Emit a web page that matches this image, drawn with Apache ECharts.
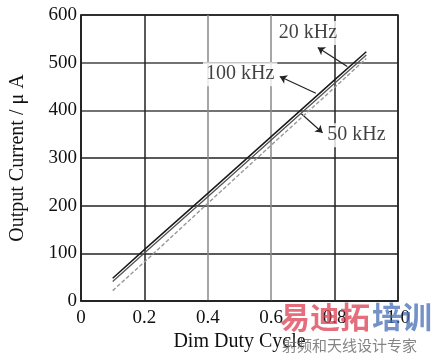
<!DOCTYPE html>
<html><head><meta charset="utf-8">
<script src="https://cdn.jsdelivr.net/npm/echarts@6/dist/echarts.min.js"></script>
<style>html,body{margin:0;padding:0;background:#fff}#c{width:434px;height:357px}</style>
</head><body><div id="c"></div>
<script>
const duty = [0.1, 0.2, 0.4, 0.6, 0.8, 0.9];
const s100k = [48, 108, 226, 345, 464, 523];
const s20k = [41, 101, 219, 338, 457, 516];
const s50k = [22, 82, 205, 327, 448, 509];
const yTicks = [0, 100, 200, 300, 400, 500, 600];
const xTicks = ['0', '0.2', '0.4', '0.6', '0.8', '1.0'];
const labelNames = ['20 kHz', '100 kHz', '50 kHz'];
const labelPos = [[0.716, 562], [0.502, 476], [0.869, 348]];
const arrowTail = [[0.84, 492], [0.741, 436], [0.695, 393]];
const arrowHead = [[0.747, 532], [0.627, 471], [0.762, 353]];

const font = "'Liberation Serif', 'DejaVu Serif', serif";
const chart = echarts.init(document.getElementById('c'));
const pairs = v => duty.map((d, i) => [d, v[i]]);
chart.setOption({
  animation: false,
  backgroundColor: '#fff',
  grid: {left: 76, right: 36, top: 15, bottom: 53, show: true, borderColor: '#222', borderWidth: 1.5, backgroundColor: 'transparent'},
  xAxis: {
    type: 'value', min: 0, max: 1, interval: 0.2,
    name: 'Dim Duty Cycle', nameLocation: 'middle', nameGap: 30,
    nameTextStyle: {fontFamily: font, fontSize: 20, color: '#111'},
    axisLine: {show: true, lineStyle: {color: '#222', width: 1.5}},
    axisTick: {show: false},
    axisLabel: {fontFamily: font, fontSize: 19, color: '#111', margin: 7,
      formatter: v => xTicks[Math.round(v / 0.2)]},
    splitLine: {show: true, lineStyle: {color: ['#222', '#222', '#888', '#888', '#222', '#222'], width: 1.5}}
  },
  yAxis: {
    type: 'value', min: 0, max: 600, interval: 100,
    name: 'Output Current / μ A', nameLocation: 'middle', nameGap: 53,
    nameTextStyle: {fontFamily: font, fontSize: 20, color: '#111'},
    axisLine: {show: true, lineStyle: {color: '#222', width: 1.5}},
    axisTick: {show: false},
    axisLabel: {fontFamily: font, fontSize: 19, color: '#111', margin: 4,
      formatter: v => String(yTicks[Math.round(v / 100)])},
    splitLine: {show: true, lineStyle: {color: ['#222', '#222', '#222', '#222', '#444', '#444', '#222'], width: 1.5}}
  },
  series: [
    {name: '100 kHz', type: 'line', data: pairs(s100k), symbol: 'none', lineStyle: {color: '#1a1a1a', width: 1.5}, z: 5},
    {name: '20 kHz', type: 'line', data: pairs(s20k), symbol: 'none', lineStyle: {color: '#555', width: 1.3}, z: 5},
    {name: '50 kHz', type: 'line', data: pairs(s50k), symbol: 'none', lineStyle: {color: '#999', width: 1.4, type: [4, 2]}, z: 5,
      markLine: {
        silent: true, symbol: ['none', 'arrow'], symbolSize: 7,
        lineStyle: {color: '#222', width: 1.2, type: 'solid'},
        label: {show: false},
        data: arrowTail.map((t, i) => [{coord: t}, {coord: arrowHead[i]}])
      }
    },
    {type: 'scatter', data: labelPos.map((p, i) => ({value: p, name: labelNames[i]})),
      symbol: 'circle', symbolSize: 1, itemStyle: {color: 'rgba(0,0,0,0)'}, z: 10, silent: true,
      label: {show: true, position: 'inside', formatter: p => p.name, fontFamily: font, fontSize: 20, color: '#111',
        backgroundColor: '#fff', padding: [2, 3]}}
  ],
  graphic: [
    {type: 'text', left: 280, top: 302, z: 100, style: {text: '易迪拓', fontFamily: "'Noto Sans CJK SC'", fontWeight: 'bold', fontSize: 30, fill: 'rgba(220,60,80,0.75)'}},
    {type: 'text', left: 372, top: 302, z: 100, style: {text: '培训', fontFamily: "'Noto Sans CJK SC'", fontWeight: 'bold', fontSize: 30, fill: 'rgba(70,110,180,0.75)'}},
    {type: 'text', left: 282, top: 338, z: 100, style: {text: '射频和天线设计专家', fontFamily: "'Noto Sans CJK SC'", fontSize: 15, fill: 'rgba(110,110,110,0.85)'}}
  ]
});
</script></body></html>
